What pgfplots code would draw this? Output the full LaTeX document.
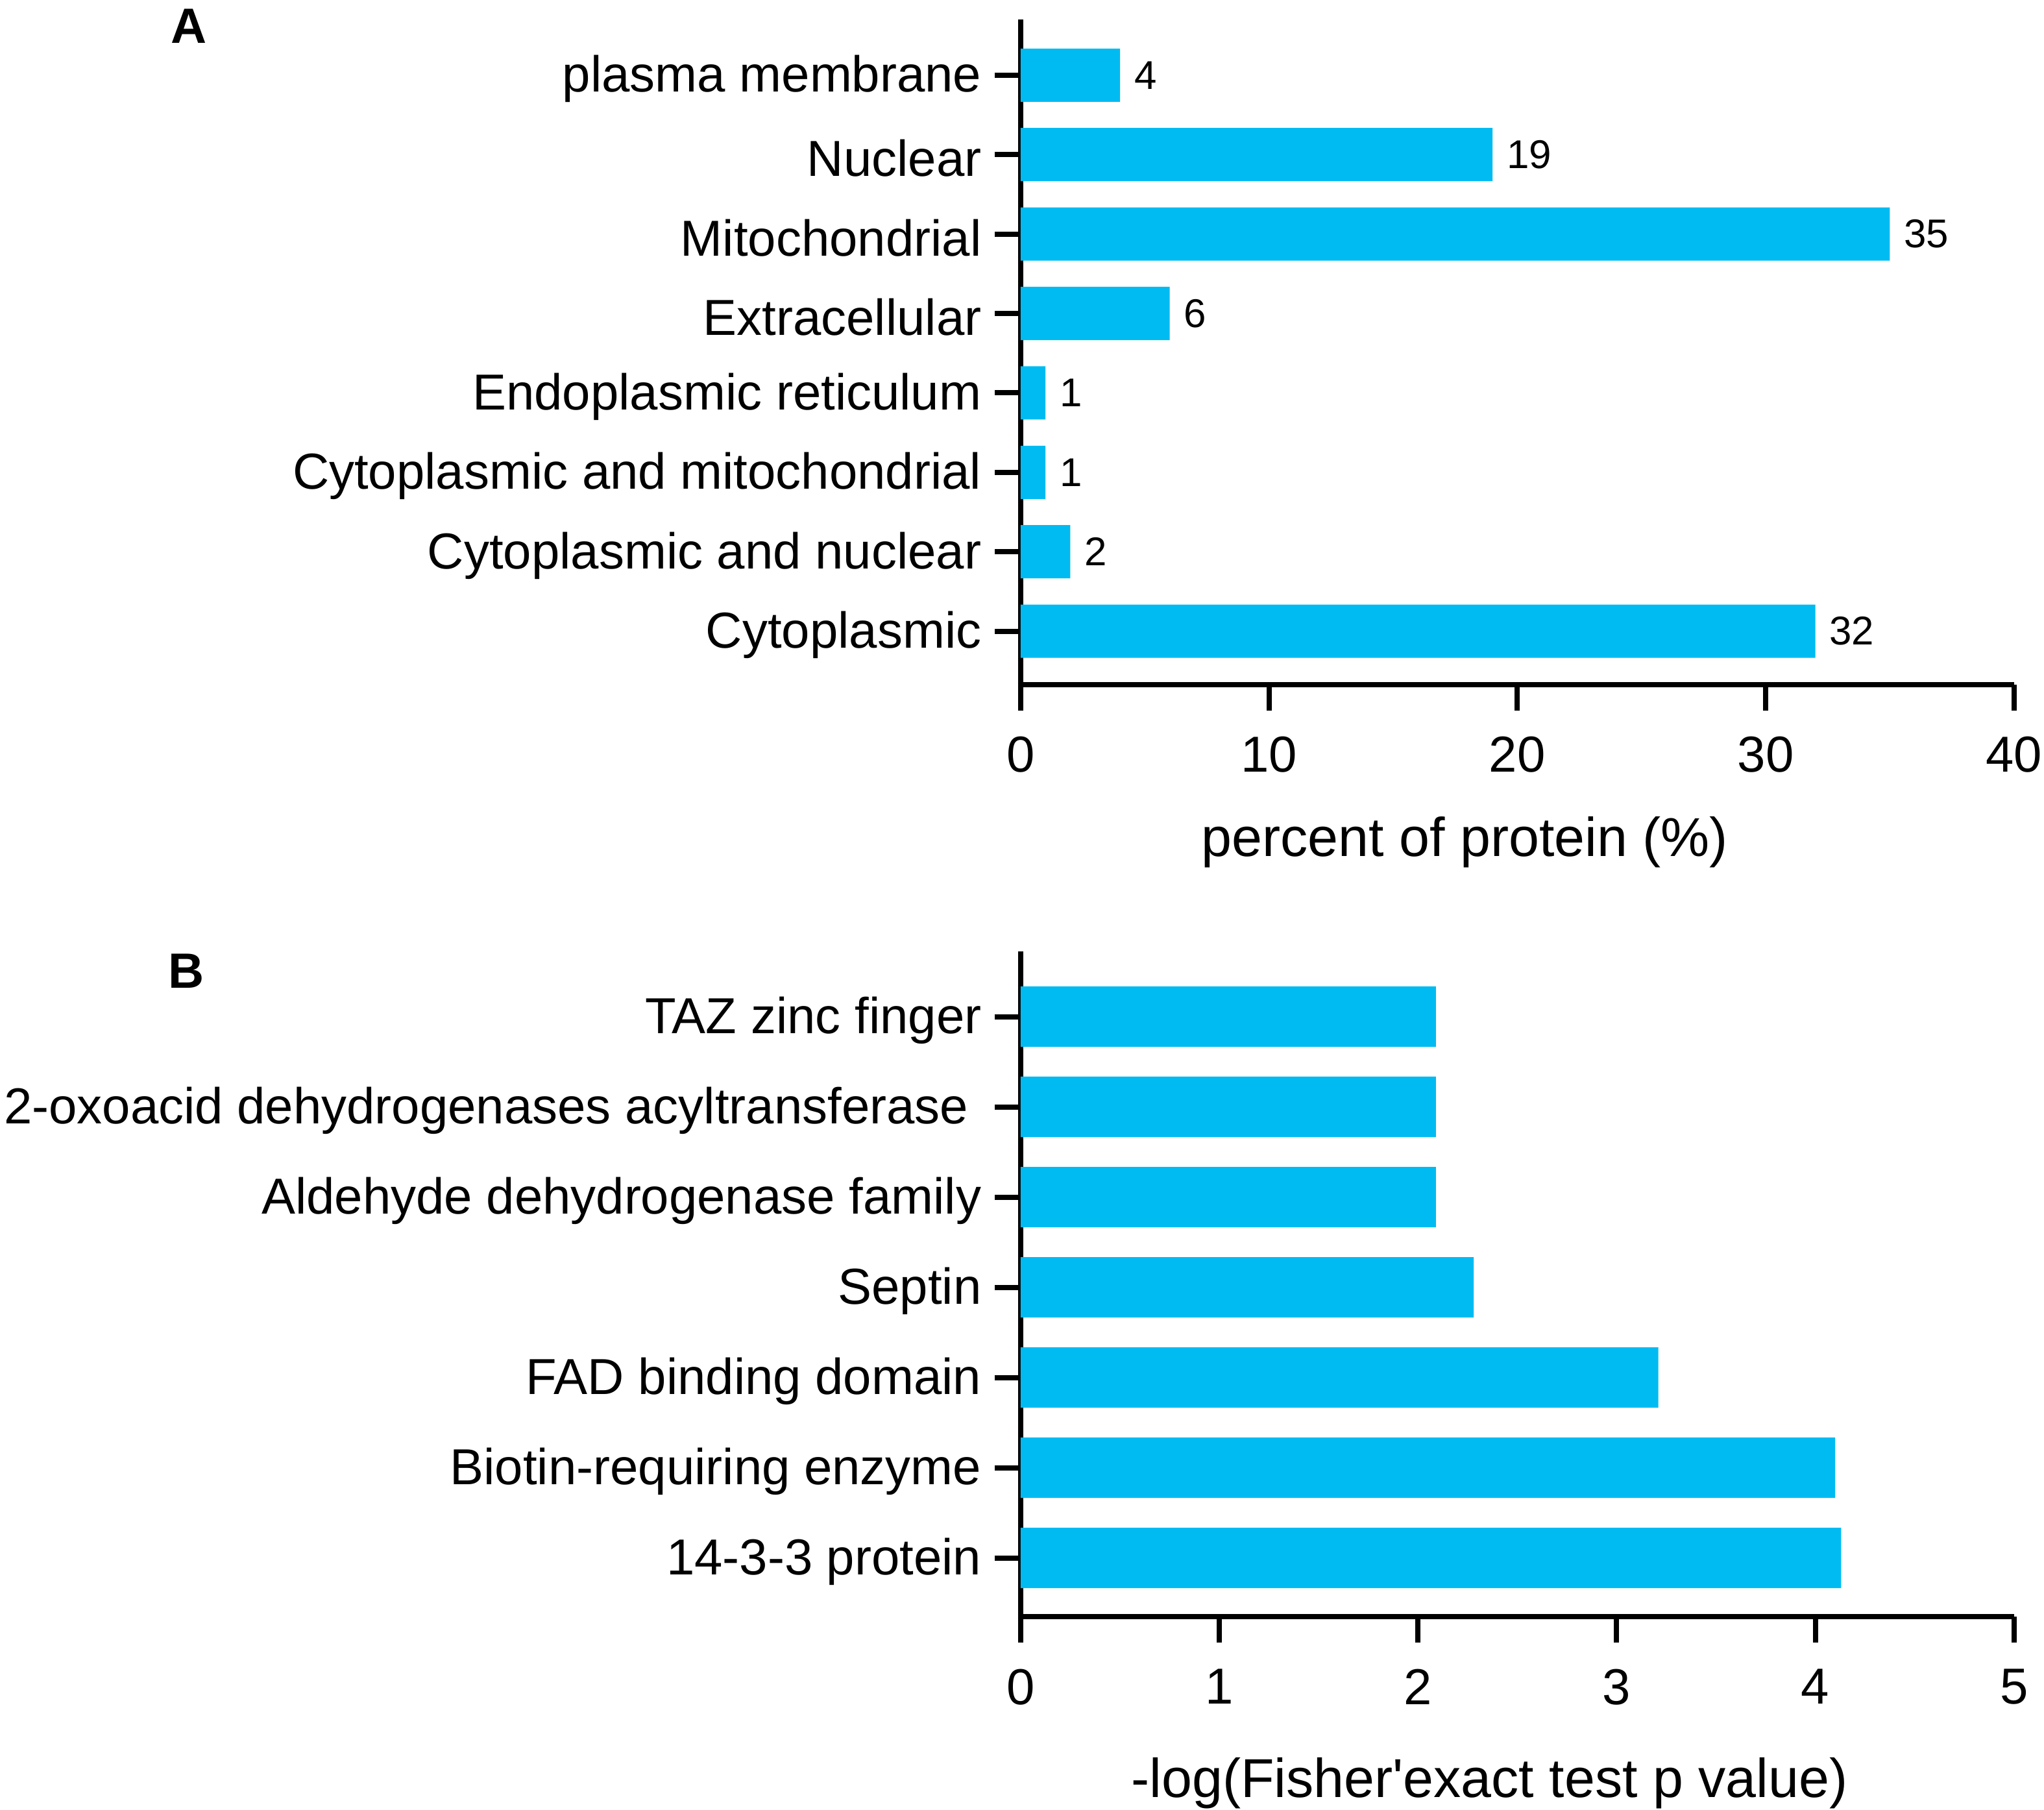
\documentclass[border=0pt]{standalone}
\usepackage{pgfplots}
\pgfplotsset{compat=1.18}
\usepackage{fontspec}
\setmainfont{Liberation Sans}
\definecolor{barblue}{RGB}{0,187,242}
\begin{document}
\begin{tikzpicture}
\pgfplotsset{
  myaxis/.style={
    scale only axis,
    width=190.5pt, height=127.5pt,
    xbar, bar width=0.67,
    axis x line*=bottom, axis y line*=left,
    axis line style={line width=1pt, black},
    every tick/.style={line width=1pt, black},
    tick align=outside, major tick length=5pt,
    xmin=0,
    ytick=data,
    xtick pos=bottom, ytick pos=left,
    /pgf/number format/assume math mode=true,
    tick label style={font=\fontsize{9.7}{11}\selectfont},
    yticklabel style={font=\fontsize{9.7}{11}\selectfont, xshift=1pt, yshift=-0.7pt},
    xticklabel style={yshift=-1.5pt},
    x label style={font=\fontsize{10.5}{12}\selectfont, anchor=center},
    clip=false,
  }
}
\path[use as bounding box] (-195.75pt,-215.75pt) rectangle (196.25pt,131.25pt);
\begin{axis}[myaxis, at={(0pt,0pt)}, anchor=south west,
  xmax=40, xtick={0,10,20,30,40},
  ymin=-0.67, ymax=7.7,
  yticklabels={Cytoplasmic, Cytoplasmic and nuclear, Cytoplasmic and mitochondrial, Endoplasmic reticulum, Extracellular, Mitochondrial, Nuclear, plasma membrane},
  xlabel={percent of protein (\%)},
  x label style={at={(axis description cs:0.447,0)}, yshift=-30.25pt},
  nodes near coords,
  every node near coord/.append style={font=\fontsize{7.7}{9}\selectfont, anchor=west, xshift=-0.8pt, /pgf/number format/assume math mode=true},
]
\addplot[fill=barblue, draw=none] coordinates {
(32,0) (2,1) (1,2) (1,3) (6,4) (35,5) (19,6) (4,7)
};
\end{axis}
\begin{axis}[myaxis, at={(0pt,-178.75pt)}, anchor=south west,
  xmax=5, xtick={0,1,2,3,4,5},
  ymin=-0.65, ymax=6.72,
  yticklabels={14-3-3 protein, Biotin-requiring enzyme, FAD binding domain, Septin, Aldehyde dehydrogenase family, {2-oxoacid dehydrogenases acyltransferase\hspace*{2.5pt}\mbox{}}, TAZ zinc finger},
  xlabel={-log(Fisher\textquotesingle exact test p value)},
  x label style={at={(axis description cs:0.472,0)}, yshift=-32pt},
]
\addplot[fill=barblue, draw=none] coordinates {
(4.13,0) (4.10,1) (3.21,2) (2.28,3) (2.09,4) (2.09,5) (2.09,6)
};
\end{axis}
\node[font=\fontsize{9.5}{11}\bfseries\selectfont] at (-159.5pt,126.25pt) {A};
\node[font=\fontsize{9.5}{11}\bfseries\selectfont] at (-160pt,-55pt) {B};
\end{tikzpicture}
\end{document}
